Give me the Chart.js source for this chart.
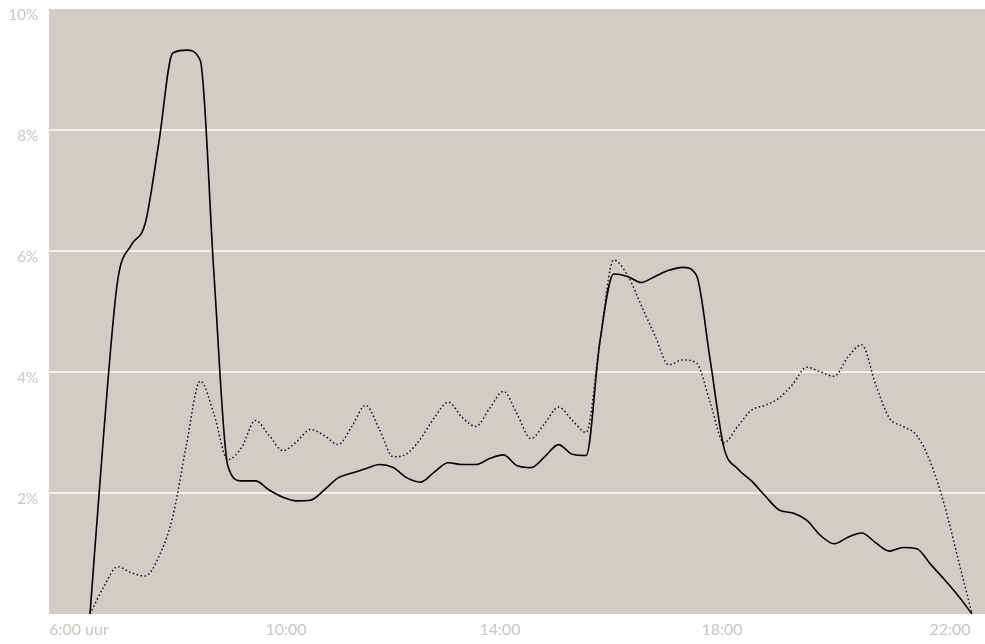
<!DOCTYPE html>
<html><head><meta charset="utf-8">
<script src="https://cdn.jsdelivr.net/npm/chart.js@4/dist/chart.umd.min.js"></script>
<style>html,body{margin:0;padding:0;background:#fff;overflow:hidden;}</style>
</head><body>
<canvas id="c" width="985" height="644"></canvas>
<script>
const times = ["6:00","6:15","6:30","6:45","7:00","7:15","7:30","7:45","8:00","8:15","8:30","8:45",
"9:00","9:15","9:30","9:45","10:00","10:15","10:30","10:45","11:00","11:15","11:30","11:45",
"12:00","12:15","12:30","12:45","13:00","13:15","13:30","13:45","14:00","14:15","14:30","14:45",
"15:00","15:15","15:30","15:45","16:00","16:15","16:30","16:45","17:00","17:15","17:30","17:45",
"18:00","18:15","18:30","18:45","19:00","19:15","19:30","19:45","20:00","20:15","20:30","20:45",
"21:00","21:15","21:30","21:45","22:00"];
const solidSeries = [0,3.0,5.5,6.1,6.45,7.8,9.27,9.32,9.15,5.6,2.45,2.2,
2.2,2.05,1.93,1.87,1.88,2.05,2.25,2.33,2.4,2.47,2.42,2.25,
2.18,2.35,2.5,2.47,2.47,2.57,2.63,2.45,2.42,2.6,2.8,2.64,
2.62,4.5,5.62,5.58,5.48,5.58,5.68,5.73,5.6,4.2,2.75,2.4,
2.2,1.95,1.72,1.67,1.55,1.3,1.16,1.27,1.34,1.18,1.04,1.1,
1.08,0.82,0.57,0.3,0];
const dottedSeries = [0,0.45,0.78,0.68,0.63,0.95,1.6,2.8,3.85,3.3,2.55,2.75,
3.2,2.95,2.7,2.85,3.05,2.95,2.8,3.1,3.45,3.05,2.6,2.65,
2.9,3.25,3.5,3.25,3.1,3.4,3.68,3.3,2.9,3.15,3.42,3.2,
3.0,4.5,5.85,5.6,5.1,4.6,4.12,4.2,4.15,3.5,2.83,3.1,
3.37,3.45,3.57,3.8,4.08,4.0,3.93,4.25,4.45,3.8,3.24,3.1,
2.95,2.5,1.8,0.9,0];
const xTickLabels = ["6:00 uur","10:00","14:00","18:00","22:00"];
const yTickValues = [0,2,4,6,8,10];

const hours = times.map(t => { const [h,m] = t.split(':').map(Number); return h + m/60; });
const toPoints = arr => arr.map((v,i) => ({x: hours[i], y: v}));

const plotBg = {id:'plotBg', beforeDraw(chart){
  const {ctx, chartArea:a} = chart;
  ctx.save(); ctx.fillStyle = '#d1cdc6';
  ctx.fillRect(a.left, a.top, a.right - a.left, a.bottom - a.top);
  ctx.restore();
}};

const labelColor = '#c9c5bf';

new Chart(document.getElementById('c'), {
  type: 'line',
  data: {
    datasets: [
      {data: toPoints(solidSeries), borderColor:'#000', borderWidth:1.6, pointRadius:0,
       cubicInterpolationMode:'monotone', fill:false},
      {data: toPoints(dottedSeries), borderColor:'#111', borderWidth:1.5, borderDash:[1.5,2.5],
       pointRadius:0, cubicInterpolationMode:'monotone', fill:false}
    ]
  },
  options: {
    responsive:false, animation:false,
    layout:{padding:{top:9,right:0,left:0,bottom:0}},
    plugins:{legend:{display:false}, tooltip:{enabled:false}},
    scales:{
      x:{type:'linear', min:5.2562, max:22.2358,
        afterBuildTicks: s => { s.ticks = [5.80, 9.556, 13.438, 17.465, 21.60].map(v => ({value:v})); },
        afterFit: s => { s.height = 30; s.paddingLeft = 0; s.paddingRight = 0; },
        grid:{display:false, drawTicks:false}, border:{display:false},
        ticks:{autoSkip:false, maxRotation:0, minRotation:0, padding:6, color:labelColor,
          font:{family:'Lato', size:16},
          callback:(v,i) => xTickLabels[i]}
      },
      y:{min:0, max:10,
        afterBuildTicks: s => { s.ticks = yTickValues.map(v => ({value:v})); },
        afterFit: s => { s.width = 49; s.paddingTop = 0; s.paddingBottom = 0; },
        border:{display:false},
        grid:{drawTicks:false, lineWidth:2,
          color: c => (c.tick && c.tick.value > 0 && c.tick.value < 10) ? '#f3f1ed' : 'rgba(0,0,0,0)'},
        ticks:{padding:11, labelOffset:6, color:labelColor, font:{family:'Lato', size:15},
          callback: v => v === 0 ? '' : v + '%'}
      }
    }
  },
  plugins:[plotBg]
});
</script>
</body></html>
